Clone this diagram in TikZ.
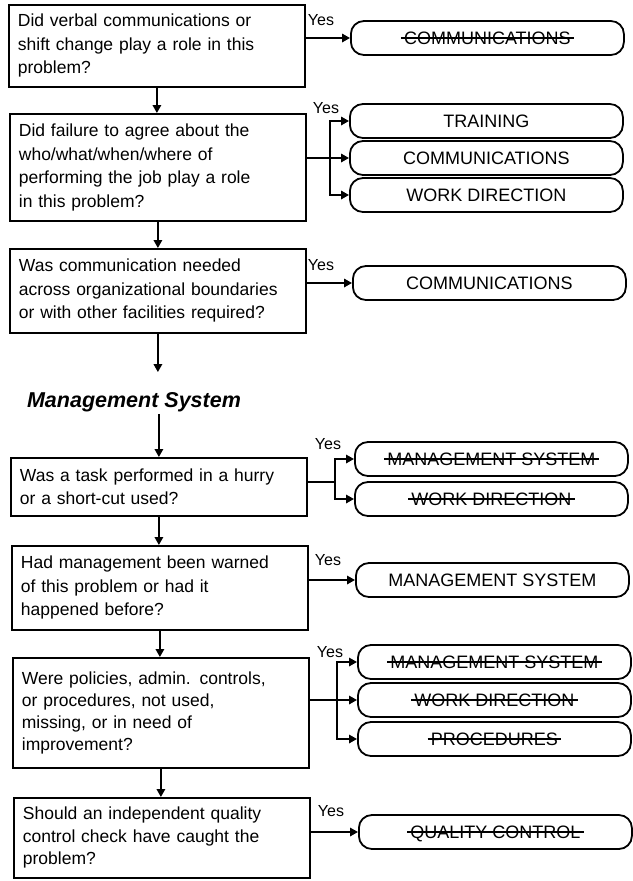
\documentclass[tikz,border=0pt]{standalone}
\usepackage{fontspec}
\setmainfont{Liberation Sans}
\usetikzlibrary{arrows.meta,calc}
\begin{document}
\begin{tikzpicture}[x=1pt,y=-1pt,
  box/.style={draw,line width=1.8pt,anchor=north west,minimum width=296pt,text width=278pt,inner xsep=9pt,inner ysep=0pt,align=left,font=\fontsize{17.5pt}{23.5pt}\selectfont},
  term/.style={draw,line width=1.8pt,rounded corners=13pt,minimum width=273pt,minimum height=34pt,anchor=west,inner sep=0pt},
  ttext/.style={inner sep=0pt,text height=12.9pt,text depth=0pt,font=\fontsize{18pt}{18pt}\selectfont},
  strike/.style={line width=1.4pt},
  arr/.style={line width=1.7pt,-{Triangle[length=8pt,width=8.5pt]}},
  conn/.style={line width=1.7pt},
  yes/.style={font=\fontsize{16pt}{16pt}\selectfont,inner sep=0pt},
  head/.style={font=\fontsize{21.5pt}{21.5pt}\selectfont\bfseries\itshape,inner sep=0pt}
]
\useasboundingbox (0,0) rectangle (632,881);

% question boxes
\node[box,minimum height=82pt] (b1) at (8,4) {Did verbal communications or\\shift change play a role in this\\problem?};
\node[box,minimum height=107pt] (b2) at (9,113) {Did failure to agree about the\\who/what/when/where of\\performing the job play a role\\in this problem?};
\node[box,minimum height=84pt] (b3) at (9,248) {Was communication needed\\across organizational boundaries\\or with other facilities required?};
\node[head] (ms) at (134,402) {Management System};
\node[box,minimum height=58pt] (b4) at (10,457) {Was a task performed in a hurry\\or a short-cut used?};
\node[box,minimum height=84pt] (b5) at (11,545) {Had management been warned\\of this problem or had it\\happened before?};
\node[box,minimum height=110pt,font=\fontsize{17.5pt}{22pt}\selectfont] (b6) at (12,657) {Were policies, admin. controls,\\or procedures, not used,\\missing, or in need of\\improvement?};
\node[box,minimum height=80pt,font=\fontsize{17.5pt}{22.5pt}\selectfont] (b7) at (13,797) {Should an independent quality\\control check have caught the\\problem?};

% main flow
\draw[arr] (b1.south) -- (b1.south |- b2.north);
\draw[arr] (b2.south) -- (b2.south |- b3.north);
\draw[arr,shorten >=20pt] (b3.south) -- (b3.south |- ms.north);
\draw[arr,shorten <=2pt] (b4.north |- ms.south) -- (b4.north);
\draw[arr] (b4.south) -- (b4.south |- b5.north);
\draw[arr] (b5.south) -- (b5.south |- b6.north);
\draw[arr] (b6.south) -- (b6.south |- b7.north);

% terminals
\node[term] (t1) at (350,38) {};
\node[ttext] (t1l) at (t1.center) {COMMUNICATIONS};
\draw[strike] ([xshift=-3pt]t1l.west) -- ([xshift=3pt]t1l.east);

\node[term] (t2a) at (349,121) {};
\node[ttext] (t2al) at (t2a.center) {TRAINING};
\node[term] (t2b) at (349,158) {};
\node[ttext] (t2bl) at (t2b.center) {COMMUNICATIONS};
\node[term] (t2c) at (349,195) {};
\node[ttext] (t2cl) at (t2c.center) {WORK DIRECTION};

\node[term] (t3) at (352,283) {};
\node[ttext] (t3l) at (t3.center) {COMMUNICATIONS};

\node[term] (t4a) at (354,459) {};
\node[ttext] (t4al) at (t4a.center) {MANAGEMENT SYSTEM};
\draw[strike] ([xshift=-3pt]t4al.west) -- ([xshift=3pt]t4al.east);
\node[term] (t4b) at (354,499) {};
\node[ttext] (t4bl) at (t4b.center) {WORK DIRECTION};
\draw[strike] ([xshift=-3pt]t4bl.west) -- ([xshift=3pt]t4bl.east);

\node[term] (t5) at (355,580) {};
\node[ttext] (t5l) at (t5.center) {MANAGEMENT SYSTEM};

\node[term] (t6a) at (357,662) {};
\node[ttext] (t6al) at (t6a.center) {MANAGEMENT SYSTEM};
\draw[strike] ([xshift=-3pt]t6al.west) -- ([xshift=3pt]t6al.east);
\node[term] (t6b) at (357,700) {};
\node[ttext] (t6bl) at (t6b.center) {WORK DIRECTION};
\draw[strike] ([xshift=-3pt]t6bl.west) -- ([xshift=3pt]t6bl.east);
\node[term] (t6c) at (357,739) {};
\node[ttext] (t6cl) at (t6c.center) {PROCEDURES};
\draw[strike] ([xshift=-3pt]t6cl.west) -- ([xshift=3pt]t6cl.east);

\node[term] (t7) at (358,832) {};
\node[ttext] (t7l) at (t7.center) {QUALITY CONTROL};
\draw[strike] ([xshift=-3pt]t7l.west) -- ([xshift=3pt]t7l.east);

% yes labels
\node[yes] (y1) at (321,20) {Yes};
\node[yes] (y2) at (326,108) {Yes};
\node[yes] (y3) at (321,265) {Yes};
\node[yes] (y4) at (328,444) {Yes};
\node[yes] (y5) at (328,560) {Yes};
\node[yes] (y6) at (330,652) {Yes};
\node[yes] (y7) at (331,811) {Yes};

% branches
\draw[arr] (b1.east |- t1.west) -- (t1.west);

\coordinate (j2) at (330,158);
\draw[arr] (b2.east |- t2b.west) -- (t2b.west);
\draw[arr] (j2) |- (t2a.west);
\draw[arr] (j2) |- (t2c.west);

\draw[arr] (b3.east |- t3.west) -- (t3.west);

\coordinate (j4) at (335,482);
\draw[conn] (b4.east |- j4) -- (j4);
\draw[arr] (j4) |- (t4a.west);
\draw[arr] (j4) |- (t4b.west);

\draw[arr] (b5.east |- t5.west) -- (t5.west);

\coordinate (j6) at (337,700);
\draw[arr] (b6.east |- t6b.west) -- (t6b.west);
\draw[arr] (j6) |- (t6a.west);
\draw[arr] (j6) |- (t6c.west);

\draw[arr] (b7.east |- t7.west) -- (t7.west);
\end{tikzpicture}
\end{document}
